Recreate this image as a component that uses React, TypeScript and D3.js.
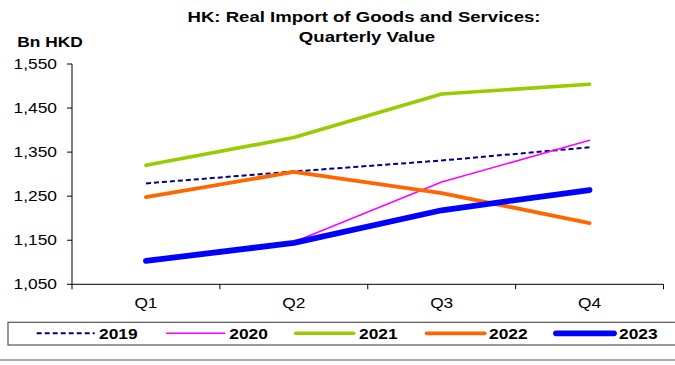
import React from "react";
import * as d3 from "d3";

const quarters = ["Q1", "Q2", "Q3", "Q4"];
const yTicks = [1050, 1150, 1250, 1350, 1450, 1550];
const years = ["2019", "2020", "2021", "2022", "2023"];
const v2019 = [1279, 1306, 1331, 1361];
const v2020 = [1104, 1146, 1282, 1377];
const v2021 = [1320, 1383, 1482, 1504];
const v2022 = [1248, 1305, 1257, 1189];
const v2023 = [1103, 1144, 1218, 1264];

const seriesValues = [v2019, v2020, v2021, v2022, v2023];
const colors = ["#000080", "#FF00FF", "#99CC00", "#FF6600", "#0000FF"];
const widths = [2, 1.6, 3.6, 3.8, 5.8];
const dashes = ["5,3", null, null, null, null];

const W = 675;
const H = 365;
const FONT = "'Liberation Sans', Arial, sans-serif";
const SX = 1.24;

function SText(props: { x: number; y: number; anchor?: string; size: number; bold?: boolean; children: React.ReactNode }) {
  const { x, y, anchor = "start", size, bold, children } = props;
  return (
    <text
      transform={`translate(${x},${y}) scale(${SX},1)`}
      textAnchor={anchor}
      fontFamily={FONT}
      fontSize={size}
      fontWeight={bold ? "bold" : "normal"}
      fill="#000"
    >
      {children}
    </text>
  );
}

export default function App() {
  const x = d3.scaleBand<string>().domain(quarters).range([72, 663.5]).padding(0);
  const y = d3.scaleLinear().domain([1050, 1550]).range([284.3, 64]);
  const line = d3
    .line<number>()
    .x((_, i) => (x(quarters[i]) as number) + x.bandwidth() / 2)
    .y((d) => y(d));

  const bounds = [...quarters.map((q) => x(q) as number), 663.5];
  const legendLineX = [36.7, 166.7, 295.7, 426.7, 556];
  const legendTextX = [99, 229.3, 359, 489, 619];
  const legendY = 333.3;

  return (
    <svg width={W} height={H} style={{ position: "absolute", left: 0, top: 0 }}>
      <rect x={0} y={0} width={W} height={H} fill="#fff" />
      <SText x={364} y={22} anchor="middle" size={15} bold>
        HK: Real Import of Goods and Services:
      </SText>
      <SText x={367} y={42} anchor="middle" size={15} bold>
        Quarterly Value
      </SText>
      <SText x={17.3} y={47.3} size={14} bold>
        Bn HKD
      </SText>

      {/* y axis */}
      <line x1={72} x2={72} y1={y(1550)} y2={y(1050)} stroke="#000" strokeWidth={1} />
      {yTicks.map((t) => (
        <g key={t}>
          <line x1={67} x2={72} y1={y(t)} y2={y(t)} stroke="#000" strokeWidth={1} />
          <SText x={57} y={y(t) + 5} anchor="end" size={14}>
            {d3.format(",")(t)}
          </SText>
        </g>
      ))}

      {/* x axis */}
      <line x1={72} x2={663.5} y1={y(1050)} y2={y(1050)} stroke="#000" strokeWidth={1} />
      {bounds.map((b, i) => (
        <line key={i} x1={b} x2={b} y1={y(1050)} y2={y(1050) + 5} stroke="#000" strokeWidth={1} />
      ))}
      {quarters.map((q) => (
        <SText key={q} x={(x(q) as number) + x.bandwidth() / 2} y={307.5} anchor="middle" size={14}>
          {q}
        </SText>
      ))}

      {/* series */}
      {seriesValues.map((vals, i) => (
        <path
          key={years[i]}
          d={line(vals) as string}
          fill="none"
          stroke={colors[i]}
          strokeWidth={widths[i]}
          strokeDasharray={dashes[i] ?? undefined}
          strokeLinecap={dashes[i] ? "butt" : "round"}
          strokeLinejoin="round"
        />
      ))}

      {/* legend */}
      <rect x={8} y={322.3} width={670} height={22.7} fill="#fff" stroke="#555" strokeWidth={1.2} />
      {years.map((yr, i) => (
        <g key={yr}>
          <line
            x1={legendLineX[i]}
            x2={legendLineX[i] + 58}
            y1={legendY}
            y2={legendY}
            stroke={colors[i]}
            strokeWidth={widths[i]}
            strokeDasharray={dashes[i] ?? undefined}
            strokeLinecap={dashes[i] ? "butt" : "round"}
          />
          <SText x={legendTextX[i]} y={339.3} size={14} bold>
            {yr}
          </SText>
        </g>
      ))}

      <line x1={0} x2={W} y1={360} y2={360} stroke="#555" strokeWidth={1.2} />
    </svg>
  );
}
